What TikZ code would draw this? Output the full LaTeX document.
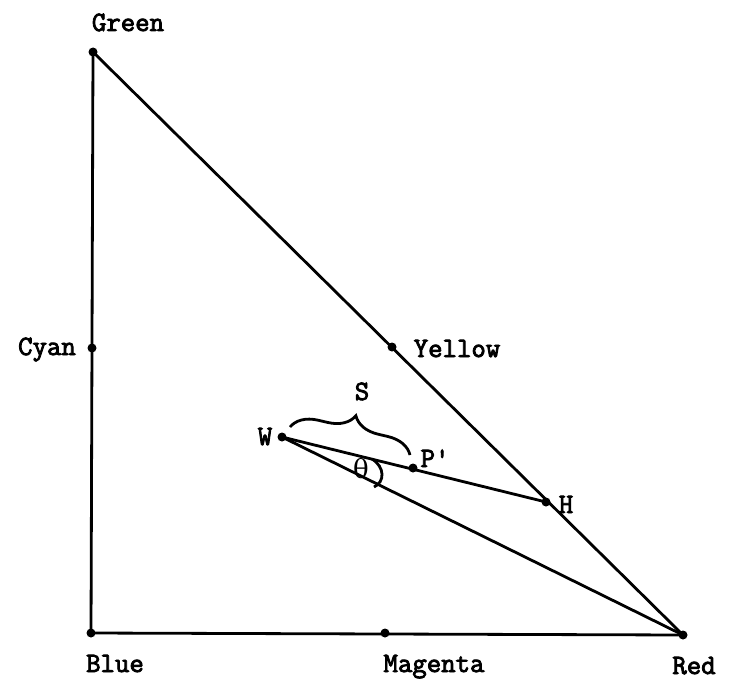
\documentclass[tikz,border=0pt]{standalone}
\usepackage{fontspec}
\setmonofont{Latin Modern Mono}[AutoFakeBold=3]
\newfontfamily\thetafont{DejaVu Serif}
\usetikzlibrary{positioning,decorations.pathreplacing}

\begin{document}
\begin{tikzpicture}[x=0.5pt, y=0.5pt, line width=1.4pt,
  colordot/.style={fill=black},
  colorlabel/.style={inner sep=0pt, anchor=base, font=\ttfamily\bfseries\fontsize{14}{16}\selectfont}]

\useasboundingbox (0,0) rectangle (738,682);

%--------------------
% Corners and midpoints of the colour triangle
%--------------------
\coordinate (Green)   at (93,630);
\coordinate (Cyan)    at (92,334);
\coordinate (Blue)    at (91,49);
\coordinate (Magenta) at (385,49);
\coordinate (Red)     at (683,47);
\coordinate (Yellow)  at (392,335);

% Inner points
\coordinate (W)  at (282,245);
\coordinate (Pp) at (413,214);
\coordinate (H)  at (546,180);

% Triangle
\draw (Green) -- (Blue) -- (Red) -- cycle;

% Hue line and saturation line
\draw (W) -- (H);
\draw (W) -- (Red);

% Dots
\foreach \p in {Green,Cyan,Blue,Magenta,Red,Yellow,W,Pp,H}
  \fill[colordot] (\p) circle (4.5);

%--------------------
% Labels
%--------------------
\node[colorlabel] (greenLbl)   at (128,651) {Green};
\node[colorlabel] (cyanLbl)    at (47,327)  {Cyan};
\node[colorlabel] (yellowLbl)  at (457,325) {Yellow};
\node[colorlabel] (blueLbl)    at (115,10)  {Blue};
\node[colorlabel] (magentaLbl) at (434,10)  {Magenta};
\node[colorlabel] (redLbl)     at (694,8)   {Red};
\node[colorlabel] (wLbl)       at (265,237) {W};
\node[colorlabel] (ppLbl)      at (435,215) {P'};
\node[colorlabel] (hLbl)       at (566,169) {H};

% Brace for S
\coordinate (braceL) at (290,255);
\coordinate (braceR) at (410,227);
\draw[decorate, decoration={brace, amplitude=13pt}] (braceL) -- (braceR);
\node[colorlabel] (sLbl) at (362,282) {S};

% Angle theta
\draw (372,223) .. controls (385,215) and (385,200) .. (374,195);
\node[inner sep=0pt, font=\thetafont\fontsize{13}{15}\selectfont] (thetaLbl) at (361,213) {θ};

\end{tikzpicture}
\end{document}
